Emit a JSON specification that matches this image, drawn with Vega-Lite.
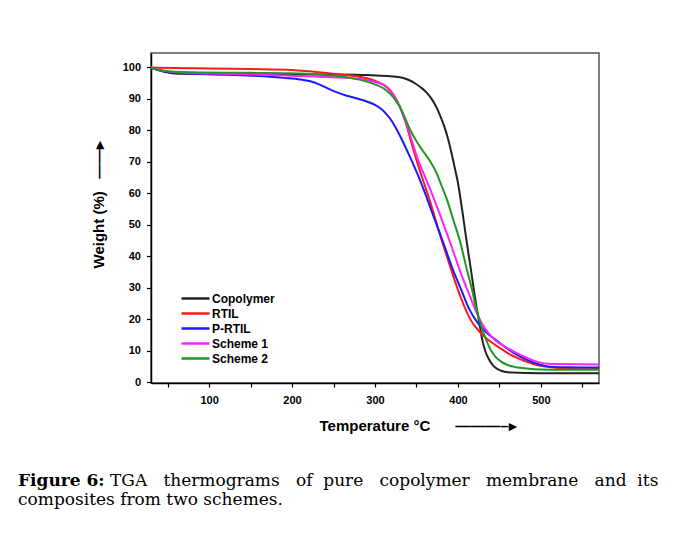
{
  "$schema": "https://vega.github.io/schema/vega-lite/v6.json",
  "padding": {"left": 18, "top": 52, "right": 13, "bottom": 48},
  "background": "white",
  "title": {
    "text": "Figure 6:",
    "subtitle": "composites from two schemes.",
    "orient": "bottom",
    "anchor": "start",
    "frame": "group",
    "dx": -133,
    "offset": -17,
    "font": "DejaVu Serif",
    "fontSize": 17,
    "fontWeight": "bold",
    "color": "#000000",
    "subtitleFont": "DejaVu Serif",
    "subtitleFontSize": 17,
    "subtitleFontWeight": "normal",
    "subtitleColor": "#000000",
    "subtitlePadding": 2
  },
  "vconcat": [
    {
      "width": 448,
      "height": 330,
      "title": {
        "text": "TGA\u00a0\u00a0\u00a0thermograms\u00a0\u00a0\u00a0of\u00a0\u00a0pure\u00a0\u00a0\u00a0copolymer\u00a0\u00a0\u00a0membrane\u00a0\u00a0\u00a0and\u00a0\u00a0its",
        "orient": "bottom",
        "anchor": "start",
        "frame": "group",
        "dx": -41,
        "offset": 40,
        "font": "DejaVu Serif",
        "fontSize": 17,
        "fontWeight": "normal",
        "color": "#000000"
      },
      "data": {"values": [
        {"s": "Copolymer", "T": 30, "W": 99.8}, {"s": "Copolymer", "T": 38, "W": 99.1}, {"s": "Copolymer", "T": 46, "W": 98.5}, {"s": "Copolymer", "T": 55, "W": 98.1}, {"s": "Copolymer", "T": 70, "W": 97.9}, {"s": "Copolymer", "T": 100, "W": 97.9}, {"s": "Copolymer", "T": 150, "W": 97.9}, {"s": "Copolymer", "T": 200, "W": 97.8}, {"s": "Copolymer", "T": 250, "W": 97.7}, {"s": "Copolymer", "T": 290, "W": 97.5}, {"s": "Copolymer", "T": 315, "W": 97.2}, {"s": "Copolymer", "T": 330, "W": 96.8}, {"s": "Copolymer", "T": 340, "W": 96.0}, {"s": "Copolymer", "T": 348, "W": 94.9}, {"s": "Copolymer", "T": 355, "W": 93.6}, {"s": "Copolymer", "T": 362, "W": 92.0}, {"s": "Copolymer", "T": 368, "W": 90.0}, {"s": "Copolymer", "T": 374, "W": 87.3}, {"s": "Copolymer", "T": 379, "W": 84.3}, {"s": "Copolymer", "T": 384, "W": 80.8}, {"s": "Copolymer", "T": 388, "W": 77.3}, {"s": "Copolymer", "T": 392, "W": 73.0}, {"s": "Copolymer", "T": 396, "W": 68.2}, {"s": "Copolymer", "T": 400, "W": 63.2}, {"s": "Copolymer", "T": 405, "W": 54.8}, {"s": "Copolymer", "T": 410, "W": 45.5}, {"s": "Copolymer", "T": 415, "W": 36.8}, {"s": "Copolymer", "T": 419, "W": 29.5}, {"s": "Copolymer", "T": 423, "W": 22.8}, {"s": "Copolymer", "T": 426, "W": 18.5}, {"s": "Copolymer", "T": 429, "W": 13.8}, {"s": "Copolymer", "T": 433, "W": 9.8}, {"s": "Copolymer", "T": 437, "W": 7.4}, {"s": "Copolymer", "T": 441, "W": 5.7}, {"s": "Copolymer", "T": 445, "W": 4.6}, {"s": "Copolymer", "T": 452, "W": 3.6}, {"s": "Copolymer", "T": 460, "W": 3.1}, {"s": "Copolymer", "T": 480, "W": 2.9}, {"s": "Copolymer", "T": 520, "W": 2.8}, {"s": "Copolymer", "T": 570, "W": 2.8},
        {"s": "RTIL", "T": 30, "W": 99.9}, {"s": "RTIL", "T": 60, "W": 99.7}, {"s": "RTIL", "T": 100, "W": 99.6}, {"s": "RTIL", "T": 150, "W": 99.4}, {"s": "RTIL", "T": 200, "W": 99.1}, {"s": "RTIL", "T": 220, "W": 98.7}, {"s": "RTIL", "T": 250, "W": 97.9}, {"s": "RTIL", "T": 275, "W": 97.2}, {"s": "RTIL", "T": 290, "W": 96.5}, {"s": "RTIL", "T": 300, "W": 95.7}, {"s": "RTIL", "T": 310, "W": 94.4}, {"s": "RTIL", "T": 318, "W": 92.6}, {"s": "RTIL", "T": 324, "W": 90.5}, {"s": "RTIL", "T": 330, "W": 87.3}, {"s": "RTIL", "T": 336, "W": 83.2}, {"s": "RTIL", "T": 341, "W": 78.8}, {"s": "RTIL", "T": 346, "W": 74.0}, {"s": "RTIL", "T": 352, "W": 68.8}, {"s": "RTIL", "T": 358, "W": 64.0}, {"s": "RTIL", "T": 368, "W": 56.0}, {"s": "RTIL", "T": 378, "W": 47.0}, {"s": "RTIL", "T": 388, "W": 38.8}, {"s": "RTIL", "T": 398, "W": 30.8}, {"s": "RTIL", "T": 408, "W": 23.8}, {"s": "RTIL", "T": 417, "W": 19.0}, {"s": "RTIL", "T": 425, "W": 16.3}, {"s": "RTIL", "T": 432, "W": 14.4}, {"s": "RTIL", "T": 440, "W": 12.7}, {"s": "RTIL", "T": 450, "W": 10.9}, {"s": "RTIL", "T": 462, "W": 8.9}, {"s": "RTIL", "T": 472, "W": 7.6}, {"s": "RTIL", "T": 483, "W": 6.4}, {"s": "RTIL", "T": 495, "W": 5.4}, {"s": "RTIL", "T": 505, "W": 4.9}, {"s": "RTIL", "T": 520, "W": 4.5}, {"s": "RTIL", "T": 545, "W": 4.3}, {"s": "RTIL", "T": 570, "W": 4.3},
        {"s": "P-RTIL", "T": 30, "W": 99.8}, {"s": "P-RTIL", "T": 40, "W": 99.0}, {"s": "P-RTIL", "T": 55, "W": 98.3}, {"s": "P-RTIL", "T": 80, "W": 97.9}, {"s": "P-RTIL", "T": 120, "W": 97.6}, {"s": "P-RTIL", "T": 160, "W": 97.2}, {"s": "P-RTIL", "T": 190, "W": 96.6}, {"s": "P-RTIL", "T": 210, "W": 96.1}, {"s": "P-RTIL", "T": 222, "W": 95.5}, {"s": "P-RTIL", "T": 234, "W": 94.4}, {"s": "P-RTIL", "T": 245, "W": 93.0}, {"s": "P-RTIL", "T": 255, "W": 91.9}, {"s": "P-RTIL", "T": 265, "W": 91.0}, {"s": "P-RTIL", "T": 275, "W": 90.3}, {"s": "P-RTIL", "T": 290, "W": 89.1}, {"s": "P-RTIL", "T": 300, "W": 88.0}, {"s": "P-RTIL", "T": 308, "W": 86.6}, {"s": "P-RTIL", "T": 314, "W": 85.0}, {"s": "P-RTIL", "T": 320, "W": 83.0}, {"s": "P-RTIL", "T": 326, "W": 80.3}, {"s": "P-RTIL", "T": 332, "W": 77.2}, {"s": "P-RTIL", "T": 342, "W": 71.6}, {"s": "P-RTIL", "T": 354, "W": 64.3}, {"s": "P-RTIL", "T": 362, "W": 58.8}, {"s": "P-RTIL", "T": 370, "W": 53.0}, {"s": "P-RTIL", "T": 384, "W": 43.0}, {"s": "P-RTIL", "T": 393, "W": 36.3}, {"s": "P-RTIL", "T": 404, "W": 29.3}, {"s": "P-RTIL", "T": 413, "W": 23.5}, {"s": "P-RTIL", "T": 424, "W": 18.7}, {"s": "P-RTIL", "T": 435, "W": 15.6}, {"s": "P-RTIL", "T": 447, "W": 13.1}, {"s": "P-RTIL", "T": 460, "W": 10.5}, {"s": "P-RTIL", "T": 475, "W": 8.1}, {"s": "P-RTIL", "T": 487, "W": 6.6}, {"s": "P-RTIL", "T": 499, "W": 5.5}, {"s": "P-RTIL", "T": 510, "W": 4.9}, {"s": "P-RTIL", "T": 530, "W": 4.7}, {"s": "P-RTIL", "T": 570, "W": 4.6},
        {"s": "Scheme 1", "T": 30, "W": 99.8}, {"s": "Scheme 1", "T": 45, "W": 98.9}, {"s": "Scheme 1", "T": 60, "W": 98.4}, {"s": "Scheme 1", "T": 100, "W": 98.0}, {"s": "Scheme 1", "T": 150, "W": 97.7}, {"s": "Scheme 1", "T": 200, "W": 97.3}, {"s": "Scheme 1", "T": 250, "W": 96.8}, {"s": "Scheme 1", "T": 280, "W": 96.3}, {"s": "Scheme 1", "T": 300, "W": 95.3}, {"s": "Scheme 1", "T": 314, "W": 93.8}, {"s": "Scheme 1", "T": 320, "W": 92.2}, {"s": "Scheme 1", "T": 326, "W": 89.6}, {"s": "Scheme 1", "T": 332, "W": 86.2}, {"s": "Scheme 1", "T": 338, "W": 82.0}, {"s": "Scheme 1", "T": 345, "W": 76.2}, {"s": "Scheme 1", "T": 351, "W": 71.2}, {"s": "Scheme 1", "T": 357, "W": 67.2}, {"s": "Scheme 1", "T": 363, "W": 63.5}, {"s": "Scheme 1", "T": 375, "W": 55.5}, {"s": "Scheme 1", "T": 391, "W": 44.0}, {"s": "Scheme 1", "T": 405, "W": 33.5}, {"s": "Scheme 1", "T": 414, "W": 27.6}, {"s": "Scheme 1", "T": 420, "W": 23.6}, {"s": "Scheme 1", "T": 428, "W": 19.0}, {"s": "Scheme 1", "T": 436, "W": 15.8}, {"s": "Scheme 1", "T": 445, "W": 13.3}, {"s": "Scheme 1", "T": 458, "W": 11.0}, {"s": "Scheme 1", "T": 471, "W": 9.2}, {"s": "Scheme 1", "T": 483, "W": 7.7}, {"s": "Scheme 1", "T": 495, "W": 6.5}, {"s": "Scheme 1", "T": 505, "W": 5.9}, {"s": "Scheme 1", "T": 520, "W": 5.7}, {"s": "Scheme 1", "T": 570, "W": 5.6},
        {"s": "Scheme 2", "T": 30, "W": 99.8}, {"s": "Scheme 2", "T": 40, "W": 99.1}, {"s": "Scheme 2", "T": 55, "W": 98.6}, {"s": "Scheme 2", "T": 80, "W": 98.4}, {"s": "Scheme 2", "T": 150, "W": 98.2}, {"s": "Scheme 2", "T": 210, "W": 98.0}, {"s": "Scheme 2", "T": 250, "W": 97.3}, {"s": "Scheme 2", "T": 270, "W": 96.6}, {"s": "Scheme 2", "T": 290, "W": 95.4}, {"s": "Scheme 2", "T": 302, "W": 94.3}, {"s": "Scheme 2", "T": 310, "W": 93.3}, {"s": "Scheme 2", "T": 318, "W": 91.6}, {"s": "Scheme 2", "T": 324, "W": 89.8}, {"s": "Scheme 2", "T": 330, "W": 87.4}, {"s": "Scheme 2", "T": 336, "W": 84.0}, {"s": "Scheme 2", "T": 342, "W": 80.3}, {"s": "Scheme 2", "T": 350, "W": 76.5}, {"s": "Scheme 2", "T": 358, "W": 73.3}, {"s": "Scheme 2", "T": 366, "W": 70.3}, {"s": "Scheme 2", "T": 374, "W": 66.5}, {"s": "Scheme 2", "T": 380, "W": 62.5}, {"s": "Scheme 2", "T": 386, "W": 58.5}, {"s": "Scheme 2", "T": 395, "W": 51.0}, {"s": "Scheme 2", "T": 403, "W": 44.2}, {"s": "Scheme 2", "T": 410, "W": 36.5}, {"s": "Scheme 2", "T": 417, "W": 29.3}, {"s": "Scheme 2", "T": 421, "W": 24.5}, {"s": "Scheme 2", "T": 427, "W": 18.7}, {"s": "Scheme 2", "T": 434, "W": 13.4}, {"s": "Scheme 2", "T": 439, "W": 10.4}, {"s": "Scheme 2", "T": 445, "W": 8.1}, {"s": "Scheme 2", "T": 452, "W": 6.5}, {"s": "Scheme 2", "T": 459, "W": 5.5}, {"s": "Scheme 2", "T": 470, "W": 4.7}, {"s": "Scheme 2", "T": 483, "W": 4.3}, {"s": "Scheme 2", "T": 500, "W": 4.0}, {"s": "Scheme 2", "T": 530, "W": 3.9}, {"s": "Scheme 2", "T": 570, "W": 3.9}
      ]},
      "mark": {"type": "line", "interpolate": "monotone", "strokeWidth": 2},
      "encoding": {
        "x": {
          "field": "T", "type": "quantitative",
          "scale": {"domain": [30, 570], "nice": false, "zero": false},
          "axis": {
            "values": [50, 100, 150, 200, 250, 300, 350, 400, 450, 500, 550],
            "labelExpr": "datum.value % 100 === 0 ? datum.label : ''",
            "title": "Temperature °C\u00a0\u00a0\u00a0\u00a0\u00a0\u00a0———–▸",
            "titleFont": "Liberation Sans", "titleFontSize": 15, "titleFontWeight": "bold", "titleColor": "#000000",
            "titleAlign": "left", "titleX": 168, "titleY": 47.4, "titleBaseline": "alphabetic",
            "labelFont": "Liberation Sans", "labelFontSize": 11, "labelFontWeight": "bold", "labelColor": "#000000",
            "tickColor": "#000000", "tickSize": 4, "tickWidth": 1.2, "labelPadding": 7,
            "domainColor": "#000000", "domainWidth": 1.5, "grid": false
          }
        },
        "y": {
          "field": "W", "type": "quantitative",
          "scale": {"domain": [-0.3, 104.5], "nice": false, "zero": false},
          "axis": {
            "values": [0, 10, 20, 30, 40, 50, 60, 70, 80, 90, 100],
            "title": "Weight (%)\u00a0\u00a0\u00a0——▸",
            "titleFont": "Liberation Sans", "titleFontSize": 15, "titleFontWeight": "bold", "titleColor": "#000000",
            "titleAngle": 270, "titleAlign": "left", "titleBaseline": "alphabetic", "titleX": -48, "titleY": 215,
            "labelFont": "Liberation Sans", "labelFontSize": 11, "labelFontWeight": "bold", "labelColor": "#000000",
            "tickColor": "#000000", "tickSize": 4.5, "tickWidth": 1.2, "labelPadding": 6,
            "domainColor": "#000000", "domainWidth": 1.5, "grid": false
          }
        },
        "color": {
          "field": "s", "type": "nominal",
          "scale": {"domain": ["Copolymer", "RTIL", "P-RTIL", "Scheme 1", "Scheme 2"], "range": ["#222222", "#ff1a1a", "#1a1aff", "#ff22ff", "#1f9a1f"]},
          "legend": {
            "orient": "none", "legendX": 36, "legendY": 237, "title": null, "padding": 0,
            "symbolType": "M-2,0H2", "symbolSize": 196, "symbolStrokeWidth": 2.5,
            "labelFont": "Liberation Sans", "labelFontSize": 12, "labelFontWeight": "bold", "labelColor": "#000000",
            "labelOffset": 8, "rowPadding": 0
          }
        }
      }
    }
  ],
  "config": {"view": {"stroke": "#555555", "strokeWidth": 1.5}}
}
